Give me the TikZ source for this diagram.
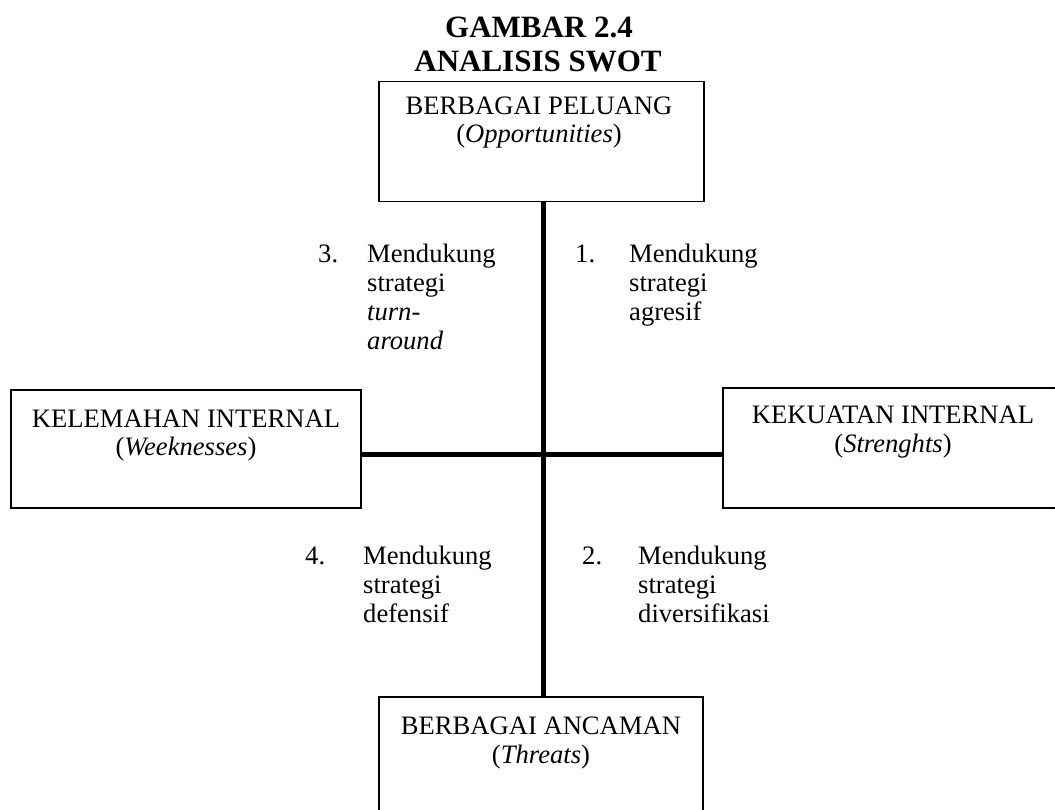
\documentclass[tikz,border=0pt]{standalone}
\usepackage{fontspec}
\setmainfont{Liberation Serif}
\begin{document}
\begin{tikzpicture}[x=1pt,y=-1pt,
  box/.style={draw=black,line width=1.5pt,rectangle,inner sep=0pt},
  txt/.style={inner sep=0pt,anchor=base,font=\fontsize{26.6}{29.5}\selectfont},
  ltxt/.style={inner sep=0pt,anchor=base west,font=\fontsize{26.6}{29.5}\selectfont},
  ttl/.style={inner sep=0pt,anchor=base,font=\fontsize{31}{33}\selectfont\bfseries},
  axis/.style={line width=5pt}]
\useasboundingbox (0,0) rectangle (1055,810);
% title
\node[ttl] (t1) at (539,38) {GAMBAR 2.4};
\node[ttl] (t2) at (538,72) {ANALISIS SWOT};
% boxes
\node[box,minimum width=325pt,minimum height=120pt] (top) at (541.5,141.5) {};
\node[box,minimum width=350pt,minimum height=118pt] (left) at (186,449) {};
\node[box,minimum width=340pt,minimum height=120pt] (right) at (893,448) {};
\node[box,minimum width=324pt,minimum height=120pt] (bottom) at (541,757) {};
\coordinate (cross) at (543.5,454);
% axes
\draw[axis] (top.south -| cross) -- (bottom.north -| cross);
\draw[axis] (left.east |- cross) -- (right.west |- cross);
% box texts
\node[txt] (topa) at (539,115) {BERBAGAI PELUANG};
\node[txt] (topb) at (539,143) {(\textit{Opportunities})};
\node[txt] (lefta) at (186,427) {KELEMAHAN INTERNAL};
\node[txt] (leftb) at (186,455) {(\textit{Weeknesses})};
\node[txt] (righta) at (893,423) {KEKUATAN INTERNAL};
\node[txt] (rightb) at (893,452) {(\textit{Strenghts})};
\node[txt] (bota) at (541,734) {BERBAGAI ANCAMAN};
\node[txt] (botb) at (541,763) {(\textit{Threats})};
% quadrant 3
\node[ltxt] (n3) at (318,263) {3.};
\node[ltxt] (q3a) at (367,263) {Mendukung};
\node[ltxt] (q3b) at (367,292) {strategi};
\node[ltxt] (q3c) at (367,320.5) {\textit{turn-}};
\node[ltxt] (q3d) at (367,349) {\textit{around}};
% quadrant 1
\node[ltxt] (n1) at (575,263) {1.};
\node[ltxt] (q1a) at (629,263) {Mendukung};
\node[ltxt] (q1b) at (629,292) {strategi};
\node[ltxt] (q1c) at (629,320.5) {agresif};
% quadrant 4
\node[ltxt] (n4) at (305,564) {4.};
\node[ltxt] (q4a) at (363,564) {Mendukung};
\node[ltxt] (q4b) at (363,593) {strategi};
\node[ltxt] (q4c) at (363,622) {defensif};
% quadrant 2
\node[ltxt] (n2) at (582,564) {2.};
\node[ltxt] (q2a) at (638,564) {Mendukung};
\node[ltxt] (q2b) at (638,593) {strategi};
\node[ltxt] (q2c) at (638,622) {diversifikasi};
\end{tikzpicture}
\end{document}
